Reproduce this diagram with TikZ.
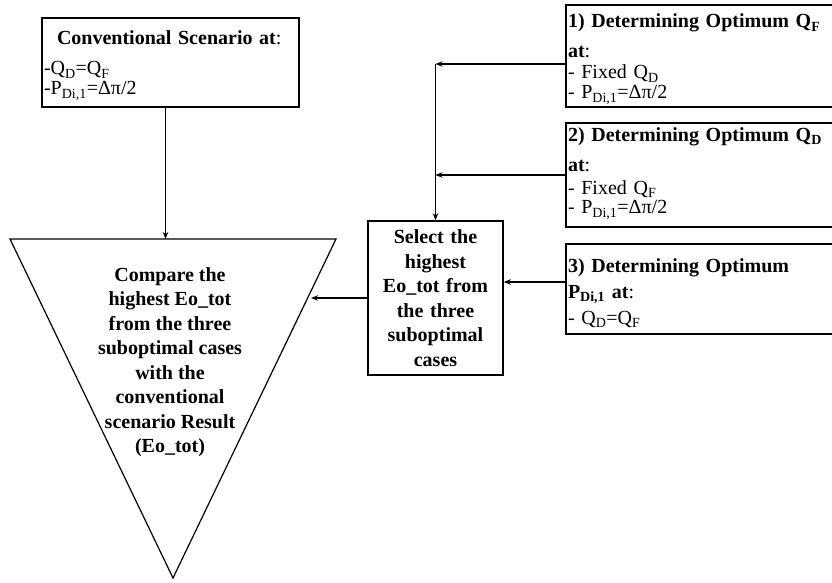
\documentclass[tikz,border=0pt]{standalone}
\usepackage{fontspec}
\setmainfont{Liberation Serif}
\usetikzlibrary{positioning}
\usetikzlibrary{calc}
\usetikzlibrary{arrows.meta}
\newcommand{\Qd}{Q\textsubscript{D}}
\newcommand{\Qf}{Q\textsubscript{F}}
\newcommand{\Pdi}{P\textsubscript{Di,1}}
\newcommand{\topgap}[1]{\rule{0pt}{#1}}
\newcommand{\botgap}[1]{\rule[-#1]{0pt}{#1}}

\begin{document}
\begin{tikzpicture}[x=1pt, y=-1pt, >={Stealth[length=7pt, width=5.5pt]},
    every node/.style={font=\fontsize{20}{20}\selectfont},
    box/.style={draw, line width=1.5pt, inner xsep=2pt, inner ysep=0pt, align=left},
    arr/.style={->, line width=1.2pt},
    boldtext/.style={font=\fontsize{20}{24.5}\selectfont\bfseries, align=center}]
    \useasboundingbox (0,0) rectangle (832,583);

    % left branch
    \node[box, minimum width=257pt, minimum height=89pt, text width=253pt] (conv) at (170.5,62.5)
        {\topgap{27pt}\hspace*{13pt}\textbf{Conventional Scenario at}:\\[10pt]
         -\Qd=\Qf\\
         -\Pdi=Δπ/2\botgap{12pt}};

    \coordinate (tl) at (10,239);
    \coordinate (tr) at (336,239);
    \coordinate (tb) at (173,578);
    \draw[line width=1.2pt] (tl) -- (tr) -- (tb) -- cycle;
    \node[boldtext] (cmp) at (170,362)
        {Compare the\\highest Eo\_tot\\from the three\\suboptimal cases\\with the\\conventional\\scenario Result\\(Eo\_tot)};

    % the three suboptimal cases
    \node[box, minimum width=274pt, minimum height=102pt, text width=270pt] (opt1) at (703,56)
        {\topgap{23pt}\textbf{1) Determining Optimum Q\textsubscript{F}}\\[10pt]
         \textbf{at}:\\[1pt]
         - Fixed \Qd\\
         - \Pdi=Δπ/2\botgap{8pt}};
    \node[box, minimum width=274pt, minimum height=104pt, text width=270pt] (opt2) at (703,175)
        {\topgap{18pt}\textbf{2) Determining Optimum Q\textsubscript{D}}\\[10pt]
         \textbf{at}:\\[3pt]
         - Fixed \Qf\\
         - \Pdi=Δπ/2\botgap{13pt}};
    \node[box, minimum width=274pt, minimum height=90pt, text width=270pt] (opt3) at (703,289)
        {\topgap{28pt}\textbf{3) Determining Optimum}\\[6pt]
         \textbf{P\textsubscript{Di,1} at}:\\[6pt]
         - \Qd=\Qf\botgap{10pt}};

    \node[box, boldtext, minimum width=135pt, minimum height=154pt, text width=131pt] (sel) at (435.5,298)
        {Select the\\highest\\Eo\_tot from\\the three\\suboptimal\\cases};

    \draw[arr] ([yshift=-8pt]opt1.west) -- ([yshift=-8pt]opt1.west -| sel.north);
    \draw[arr] ([yshift=-8pt]opt1.west -| sel.north) -- (sel.north);
    \draw[arr] (opt2.west) -- (opt2.west -| sel.north);
    \draw[arr] ([yshift=7pt]opt3.west) -- ([yshift=7pt]opt3.west -| sel.east);

    \coordinate (cmpin) at (311,298);
    \draw[arr] (sel.west) -- (cmpin);
    \draw[arr] ([xshift=-5pt]conv.south) -- ([xshift=-5pt]conv.south |- tl);
\end{tikzpicture}
\end{document}
